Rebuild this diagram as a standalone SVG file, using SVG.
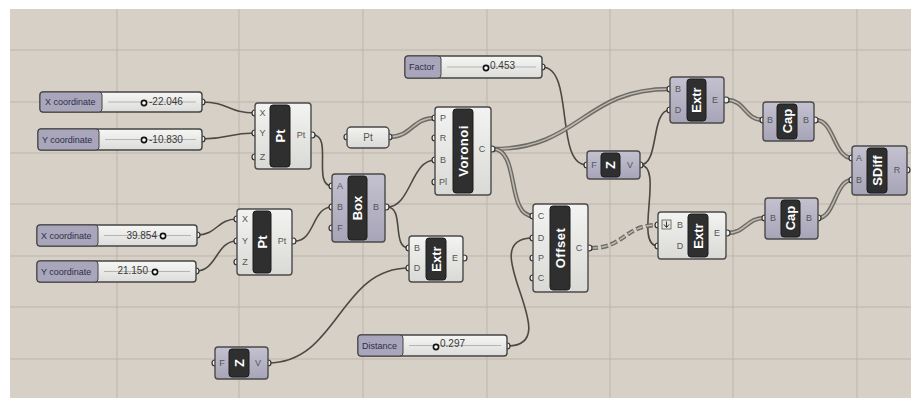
<svg xmlns="http://www.w3.org/2000/svg" width="911" height="403" viewBox="0 0 911 403">
<defs>
<linearGradient id="gl" x1="0" y1="0" x2="0" y2="1"><stop offset="0" stop-color="#f3f3f1"/><stop offset="1" stop-color="#d9d9d6"/></linearGradient>
<linearGradient id="gv" x1="0" y1="0" x2="0" y2="1"><stop offset="0" stop-color="#c4c2d0"/><stop offset="1" stop-color="#a6a4b7"/></linearGradient>
<linearGradient id="gs" x1="0" y1="0" x2="0" y2="1"><stop offset="0" stop-color="#f6f6f4"/><stop offset="1" stop-color="#dcdcda"/></linearGradient>
<style>
.grid{stroke:#bdb5ab;stroke-width:1}
.nl{fill:url(#gl);stroke:#4a4a4a;stroke-width:1.4}
.nv{fill:url(#gv);stroke:#4a4a4a;stroke-width:1.4}
.blk{fill:#2f2f2f;stroke:#1c1c1c;stroke-width:1}
.nm{font-family:"Liberation Sans",Arial,sans-serif;font-weight:bold;font-size:13px;fill:#ffffff;text-anchor:middle;dominant-baseline:central}
.pl{font-family:"Liberation Sans",Arial,sans-serif;font-size:9px;fill:#555;text-anchor:middle;dominant-baseline:central}
.grip{fill:#f2f2f2;stroke:#333;stroke-width:1.2}
.w{fill:none;stroke:#4b4944;stroke-width:1.6}
.wo{fill:none;stroke:#6c6a64;stroke-width:4.4}
.wi{fill:none;stroke:#bdb9af;stroke-width:1.6}
.sl{fill:url(#gs);stroke:#444;stroke-width:1.4}
.sll{fill:#a9a6bb;stroke:#444;stroke-width:1}
.st{font-family:"Liberation Sans",Arial,sans-serif;font-size:9px;fill:#2e2e48;dominant-baseline:central}
.sv{font-family:"Liberation Sans",Arial,sans-serif;font-size:10px;fill:#3a3a3a;dominant-baseline:central}
.trk{stroke:#b4b4b0;stroke-width:1}
.knob{fill:#fff;stroke:#111;stroke-width:1.6}
</style>
</defs>
<rect width="911" height="403" fill="#ffffff"/>
<rect x="10" y="9" width="901" height="389" fill="#d7d0c6"/>
<g id="grid">
<line class="grid" x1="117" y1="9" x2="117" y2="398"/>
<line class="grid" x1="239" y1="9" x2="239" y2="398"/>
<line class="grid" x1="363" y1="9" x2="363" y2="398"/>
<line class="grid" x1="487" y1="9" x2="487" y2="398"/>
<line class="grid" x1="610" y1="9" x2="610" y2="398"/>
<line class="grid" x1="733" y1="9" x2="733" y2="398"/>
<line class="grid" x1="857" y1="9" x2="857" y2="398"/>
<line class="grid" x1="10" y1="50" x2="911" y2="50"/>
<line class="grid" x1="10" y1="102" x2="911" y2="102"/>
<line class="grid" x1="10" y1="153" x2="911" y2="153"/>
<line class="grid" x1="10" y1="204" x2="911" y2="204"/>
<line class="grid" x1="10" y1="256" x2="911" y2="256"/>
<line class="grid" x1="10" y1="307" x2="911" y2="307"/>
<line class="grid" x1="10" y1="359" x2="911" y2="359"/>
</g>
<g id="connectors">
<path class="w" d="M202,102 C229,102 228,113 255,113"/>
<path class="w" d="M202,139 C229,139 228,133 255,133"/>
<path class="w" d="M197,235 C217,235 217,219 237,219"/>
<path class="w" d="M196,271 C217,271 216,241 237,241"/>
<path class="w" d="M313,135 C333,135 312,186 332,186"/>
<path class="w" d="M295,241 C315,241 312,207 332,207"/>
<path class="w" d="M387,207 C411,207 411,160 435,160"/>
<path class="w" d="M387,207 C405,207 391,248 409,248"/>
<path class="w" d="M542,67 C575,67 554,165 587,165"/>
<path class="w" d="M640,165 C660,165 650,110 670,110"/>
<path class="w" d="M640,165 C665,165 633,246 658,246"/>
<path class="w" d="M507,346 C570,346 470,238 533,238"/>
<path class="w" d="M268,363 C338,363 339,268 409,268"/>
<path class="wo" d="M389,137 C412,137 412,118 435,118"/>
<path class="wi" d="M389,137 C412,137 412,118 435,118"/>
<path class="wo" d="M493,149 C581,149 582,89 670,89"/>
<path class="wi" d="M493,149 C581,149 582,89 670,89"/>
<path class="wo" d="M493,149 C520,149 506,216 533,216"/>
<path class="wi" d="M493,149 C520,149 506,216 533,216"/>
<path class="wo" d="M727,100 C745,100 745,120 763,120"/>
<path class="wi" d="M727,100 C745,100 745,120 763,120"/>
<path class="wo" d="M727,233 C746,233 746,218 765,218"/>
<path class="wi" d="M727,233 C746,233 746,218 765,218"/>
<path class="wo" d="M816,120 C834,120 834,158 852,158"/>
<path class="wi" d="M816,120 C834,120 834,158 852,158"/>
<path class="wo" d="M818,218 C835,218 835,180 852,180"/>
<path class="wi" d="M818,218 C835,218 835,180 852,180"/>
<path class="wo" d="M591,248 C625,248 624,225 658,225" stroke-dasharray="7,3"/>
<path class="wi" d="M591,248 C625,248 624,225 658,225" stroke-dasharray="6,4" stroke-dashoffset="-0.5"/>
</g>
<g id="sliderX1">
<circle class="grip" cx="202" cy="102" r="3"/>
<rect class="sl" x="40" y="92" width="162" height="20" rx="3"/>
<rect class="sll" x="40" y="92" width="62" height="20" rx="3"/>
<text class="st" x="45" y="102">X coordinate</text>
<line class="trk" x1="108" y1="102" x2="196" y2="102"/>
<text class="sv" x="149" y="101">-22.046</text>
<circle class="knob" cx="144" cy="103" r="2.6"/>
</g>
<g id="sliderY1">
<circle class="grip" cx="202" cy="139" r="3"/>
<rect class="sl" x="38" y="129" width="164" height="21" rx="3"/>
<rect class="sll" x="38" y="129" width="61" height="21" rx="3"/>
<text class="st" x="42" y="139.5">Y coordinate</text>
<line class="trk" x1="105" y1="139.5" x2="196" y2="139.5"/>
<text class="sv" x="149" y="139">-10.830</text>
<circle class="knob" cx="144" cy="140" r="2.6"/>
</g>
<g id="sliderX2">
<circle class="grip" cx="197" cy="235" r="3"/>
<rect class="sl" x="37" y="225" width="160" height="21" rx="3"/>
<rect class="sll" x="37" y="225" width="61" height="21" rx="3"/>
<text class="st" x="41" y="235.5">X coordinate</text>
<line class="trk" x1="104" y1="235.5" x2="191" y2="235.5"/>
<text class="sv" x="157" y="235" text-anchor="end">39.854</text>
<circle class="knob" cx="163" cy="236" r="2.6"/>
</g>
<g id="sliderY2">
<circle class="grip" cx="196" cy="271" r="3"/>
<rect class="sl" x="37" y="261" width="159" height="21" rx="3"/>
<rect class="sll" x="37" y="261" width="61" height="21" rx="3"/>
<text class="st" x="41" y="271.5">Y coordinate</text>
<line class="trk" x1="104" y1="271.5" x2="190" y2="271.5"/>
<text class="sv" x="148" y="270" text-anchor="end">21.150</text>
<circle class="knob" cx="155" cy="272" r="2.6"/>
</g>
<g id="sliderFactor">
<circle class="grip" cx="542" cy="67" r="3"/>
<rect class="sl" x="405" y="56" width="137" height="22" rx="3"/>
<rect class="sll" x="405" y="56" width="36" height="22" rx="3"/>
<text class="st" x="409" y="67">Factor</text>
<line class="trk" x1="447" y1="67" x2="536" y2="67"/>
<text class="sv" x="490" y="65">0.453</text>
<circle class="knob" cx="486" cy="68" r="2.6"/>
</g>
<g id="sliderDistance">
<circle class="grip" cx="507" cy="346" r="3"/>
<rect class="sl" x="358" y="335" width="149" height="21" rx="3"/>
<rect class="sll" x="358" y="335" width="45" height="21" rx="3"/>
<text class="st" x="362" y="345.5">Distance</text>
<line class="trk" x1="409" y1="345.5" x2="501" y2="345.5"/>
<text class="sv" x="440" y="343">0.297</text>
<circle class="knob" cx="436" cy="347" r="2.6"/>
</g>
<g id="pt1">
<circle class="grip" cx="255" cy="113" r="3"/><circle class="grip" cx="255" cy="133" r="3"/><circle class="grip" cx="255" cy="157" r="3"/><circle class="grip" cx="312" cy="135" r="3"/>
<rect class="nl" x="255" y="103" width="56" height="66" rx="3"/>
<rect class="blk" x="270" y="105" width="20" height="62" rx="3"/>
<text class="nm" transform="translate(280,136) rotate(-90)">Pt</text>
<text class="pl" x="262.5" y="113">X</text><text class="pl" x="262.5" y="133">Y</text><text class="pl" x="262.5" y="157">Z</text>
<text class="pl" x="301" y="135">Pt</text>
</g>
<g id="pt2">
<circle class="grip" cx="237" cy="219" r="3"/><circle class="grip" cx="237" cy="241" r="3"/><circle class="grip" cx="237" cy="262" r="3"/><circle class="grip" cx="293" cy="241" r="3"/>
<rect class="nl" x="237" y="209" width="55" height="66" rx="3"/>
<rect class="blk" x="253" y="211" width="18" height="62" rx="3"/>
<text class="nm" transform="translate(262,242) rotate(-90)">Pt</text>
<text class="pl" x="245" y="219">X</text><text class="pl" x="245" y="241">Y</text><text class="pl" x="245" y="262">Z</text>
<text class="pl" x="282" y="241">Pt</text>
</g>
<g id="box">
<circle class="grip" cx="332" cy="186" r="3"/><circle class="grip" cx="332" cy="207" r="3"/><circle class="grip" cx="332" cy="228" r="3"/><circle class="grip" cx="386" cy="207" r="3"/>
<rect class="nv" x="332" y="174" width="53" height="68" rx="3"/>
<rect class="blk" x="348" y="176" width="19" height="64" rx="3"/>
<text class="nm" transform="translate(357.5,208) rotate(-90)">Box</text>
<text class="pl" x="340" y="186">A</text><text class="pl" x="340" y="207">B</text><text class="pl" x="340" y="228">F</text>
<text class="pl" x="376" y="207">B</text>
</g>
<g id="ptParam">
<circle class="grip" cx="347" cy="137" r="3"/><circle class="grip" cx="389" cy="137" r="3"/>
<rect class="nl" x="347" y="127" width="42" height="21" rx="4"/>
<text class="pl" x="368" y="137.5" style="font-size:10px">Pt</text>
</g>
<g id="voronoi">
<circle class="grip" cx="435" cy="118" r="3"/><circle class="grip" cx="435" cy="138" r="3"/><circle class="grip" cx="435" cy="160" r="3"/><circle class="grip" cx="435" cy="182" r="3"/><circle class="grip" cx="492" cy="149" r="3"/>
<rect class="nl" x="435" y="107" width="56" height="88" rx="3"/>
<rect class="blk" x="453" y="109" width="20" height="84" rx="3"/>
<text class="nm" transform="translate(463,151) rotate(-90)" letter-spacing="0.5">Voronoi</text>
<text class="pl" x="443" y="118">P</text><text class="pl" x="443" y="138">R</text><text class="pl" x="443" y="160">B</text><text class="pl" x="443" y="182">Pl</text>
<text class="pl" x="482" y="149">C</text>
</g>
<g id="extrMid">
<circle class="grip" cx="409" cy="248" r="3"/><circle class="grip" cx="409" cy="268" r="3"/><circle class="grip" cx="464" cy="258" r="3"/>
<rect class="nl" x="409" y="236" width="54" height="46" rx="3"/>
<rect class="blk" x="426" y="238" width="20" height="42" rx="3"/>
<text class="nm" transform="translate(436,259) rotate(-90)">Extr</text>
<text class="pl" x="417" y="248">B</text><text class="pl" x="417" y="268">D</text>
<text class="pl" x="455" y="258">E</text>
</g>
<g id="offset">
<circle class="grip" cx="533" cy="216" r="3"/><circle class="grip" cx="533" cy="238" r="3"/><circle class="grip" cx="533" cy="258" r="3"/><circle class="grip" cx="533" cy="278" r="3"/><circle class="grip" cx="589" cy="248" r="3"/>
<rect class="nl" x="533" y="204" width="55" height="88" rx="3"/>
<rect class="blk" x="550" y="206" width="20" height="84" rx="3"/>
<text class="nm" transform="translate(560,248) rotate(-90)" letter-spacing="0.5">Offset</text>
<text class="pl" x="541" y="216">C</text><text class="pl" x="541" y="238">D</text><text class="pl" x="541" y="258">P</text><text class="pl" x="541" y="278">C</text>
<text class="pl" x="579" y="248">C</text>
</g>
<g id="zBottom">
<circle class="grip" cx="215" cy="363" r="3"/><circle class="grip" cx="268" cy="363" r="3"/>
<rect class="nv" x="215" y="347" width="53" height="32" rx="3"/>
<rect class="blk" x="229" y="349" width="20" height="28" rx="3"/>
<text class="nm" transform="translate(239,363) rotate(-90)">Z</text>
<text class="pl" x="222" y="363">F</text><text class="pl" x="258" y="363">V</text>
</g>
<g id="zTop">
<circle class="grip" cx="587" cy="165" r="3"/><circle class="grip" cx="640" cy="165" r="3"/>
<rect class="nv" x="587" y="151" width="53" height="28" rx="3"/>
<rect class="blk" x="601" y="153" width="19" height="24" rx="3"/>
<text class="nm" transform="translate(610.5,165) rotate(-90)">Z</text>
<text class="pl" x="594" y="165">F</text><text class="pl" x="630" y="165">V</text>
</g>
<g id="extrTop">
<circle class="grip" cx="670" cy="89" r="3"/><circle class="grip" cx="670" cy="110" r="3"/><circle class="grip" cx="726" cy="100" r="3"/>
<rect class="nv" x="670" y="77" width="54" height="46" rx="3"/>
<rect class="blk" x="687" y="79" width="19" height="42" rx="3"/>
<text class="nm" transform="translate(696.5,100) rotate(-90)">Extr</text>
<text class="pl" x="678" y="89">B</text><text class="pl" x="678" y="110">D</text>
<text class="pl" x="715" y="100">E</text>
</g>
<g id="extrBottom">
<circle class="grip" cx="658" cy="225" r="3"/><circle class="grip" cx="658" cy="246" r="3"/><circle class="grip" cx="727" cy="233" r="3"/>
<rect class="nl" x="658" y="212" width="68" height="47" rx="3"/>
<rect class="blk" x="688" y="214" width="20" height="43" rx="3"/>
<text class="nm" transform="translate(698,236) rotate(-90)">Extr</text>
<rect x="662" y="220" width="9" height="9" fill="#e6e6e4" stroke="#555" stroke-width="0.8"/>
<path d="M666.5,221.5 V227 M664,224.5 L666.5,227.5 L669,224.5" fill="none" stroke="#333" stroke-width="1"/>
<text class="pl" x="680" y="225">B</text><text class="pl" x="680" y="246">D</text>
<text class="pl" x="717" y="233">E</text>
</g>
<g id="capTop">
<circle class="grip" cx="763" cy="120" r="3"/><circle class="grip" cx="815" cy="120" r="3"/>
<rect class="nv" x="763" y="102" width="51" height="39" rx="3"/>
<rect class="blk" x="777" y="104" width="20" height="35" rx="3"/>
<text class="nm" transform="translate(787,121) rotate(-90)">Cap</text>
<text class="pl" x="770" y="120">B</text><text class="pl" x="806" y="120">B</text>
</g>
<g id="capBottom">
<circle class="grip" cx="765" cy="218" r="3"/><circle class="grip" cx="818" cy="218" r="3"/>
<rect class="nv" x="765" y="198" width="53" height="41" rx="3"/>
<rect class="blk" x="781" y="200" width="19" height="37" rx="3"/>
<text class="nm" transform="translate(790.5,218) rotate(-90)">Cap</text>
<text class="pl" x="773" y="218">B</text><text class="pl" x="809" y="218">B</text>
</g>
<g id="sdiff">
<circle class="grip" cx="852" cy="158" r="3"/><circle class="grip" cx="852" cy="180" r="3"/><circle class="grip" cx="907" cy="170" r="3"/>
<rect class="nv" x="852" y="146" width="55" height="49" rx="3"/>
<rect class="blk" x="867" y="148" width="20" height="45" rx="3"/>
<text class="nm" transform="translate(877,170.5) rotate(-90)">SDiff</text>
<text class="pl" x="859" y="158">A</text><text class="pl" x="859" y="180">B</text>
<text class="pl" x="897" y="170">R</text>
</g>
</svg>
